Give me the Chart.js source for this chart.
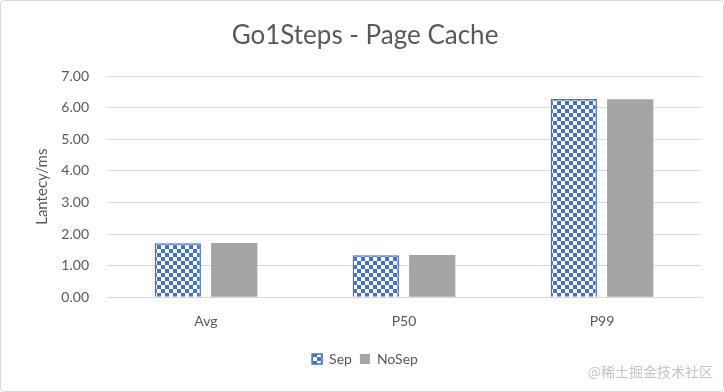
<!DOCTYPE html>
<html>
<head>
<meta charset="utf-8">
<script src="https://cdn.jsdelivr.net/npm/chart.js@4.4.0/dist/chart.umd.min.js"></script>
<style>
  html, body { margin: 0; padding: 0; background: #fff; }
  #wrap { position: relative; width: 722px; height: 390px; border: 1px solid #d9d9d9; border-radius: 4px; overflow: hidden; }
  #mark { position: absolute; right: 10px; bottom: 10px; font: 14px "Noto Sans CJK SC", sans-serif; color: #c4c4c4; }
</style>
</head>
<body>
<div id="wrap">
  <canvas id="chart" width="722" height="390"></canvas>
  <div id="mark">@稀土掘金技术社区</div>
</div>
<script>
const categories = ["Avg", "P50", "P99"];
const sepValues = [1.71, 1.33, 6.28];
const noSepValues = [1.72, 1.34, 6.27];
const seriesNames = ["Sep", "NoSep"];

// checkerboard fill like the Excel pattern
function checker(c1, c2, size) {
  const cv = document.createElement("canvas");
  cv.width = cv.height = size * 2;
  const g = cv.getContext("2d");
  g.fillStyle = c2; g.fillRect(0, 0, size * 2, size * 2);
  g.fillStyle = c1;
  g.fillRect(0, 0, size, size);
  g.fillRect(size, size, size, size);
  return g.createPattern(cv, "repeat");
}

const txt = "#595959";
const font = "Lato, 'Open Sans', sans-serif";
const ctx = document.getElementById("chart").getContext("2d");
const sepFill = checker("#4472C4", "#ffffff", 4);

new Chart(ctx, {
  type: "bar",
  data: {
    labels: categories,
    datasets: [
      { label: seriesNames[0], data: sepValues, backgroundColor: sepFill, borderColor: "#4472C4", borderWidth: 1.5, barPercentage: 0.82, categoryPercentage: 0.57 },
      { label: seriesNames[1], data: noSepValues, backgroundColor: "#A5A5A5", borderWidth: 0, barPercentage: 0.82, categoryPercentage: 0.57 },
    ],
  },
  options: {
    responsive: false,
    animation: false,
    layout: { padding: { left: 28, right: 22, top: 0, bottom: 15 } },
    plugins: {
      title: { display: true, text: "Go1Steps - Page Cache", color: txt, font: { family: font, size: 26, weight: "normal" }, padding: { top: 19, bottom: 25 } },
      legend: {
        position: "bottom",
        labels: { color: txt, font: { family: font, size: 14 }, boxWidth: 10, boxHeight: 10, padding: 8 },
      },
      tooltip: { enabled: false },
    },
    scales: {
      x: {
        grid: { display: false },
        border: { color: "#d9d9d9" },
        ticks: { color: txt, font: { family: font, size: 14 }, padding: 8 },
        afterFit: (s) => { s.height += 6; },
      },
      y: {
        min: 0, max: 7,
        afterFit: (s) => { s.width = 78; },
        grid: { color: "#d9d9d9", drawTicks: false },
        border: { display: false },
        ticks: { stepSize: 1, color: txt, font: { family: font, size: 14 }, padding: 18, callback: (v) => v.toFixed(2) },
        title: { display: true, text: "Lantecy/ms", color: txt, font: { family: font, size: 15 }, padding: { bottom: 2 } },
      },
    },
  },
});
</script>
</body>
</html>
